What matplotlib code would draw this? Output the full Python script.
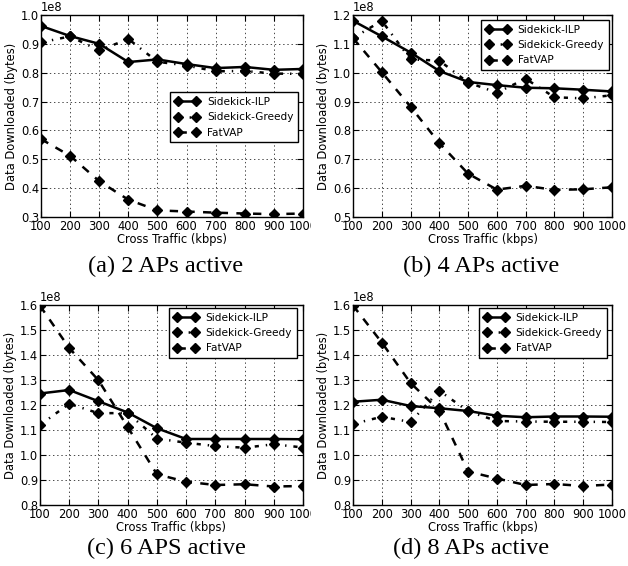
import matplotlib
matplotlib.use("Agg")
import matplotlib.pyplot as plt
import numpy as np
from matplotlib.transforms import Bbox

# ---- data (values in units of 1e8 bytes) ----
cross_traffic = [100, 200, 300, 400, 500, 600, 700, 800, 900, 1000]
series_names = ["Sidekick-ILP", "Sidekick-Greedy", "FatVAP"]

a_ilp = [0.962, 0.927, 0.900, 0.837, 0.846, 0.830, 0.816, 0.820, 0.810, 0.813]
a_greedy = [0.905, 0.926, 0.877, 0.917, 0.838, 0.825, 0.805, 0.806, 0.797, 0.796]
a_fatvap = [0.570, 0.512, 0.424, 0.360, 0.323, 0.319, 0.315, 0.312, 0.310, 0.312]

b_ilp = [1.180, 1.126, 1.070, 1.006, 0.968, 0.957, 0.948, 0.946, 0.941, 0.935]
b_greedy = [1.120, 1.180, 1.046, 1.042, 0.966, 0.931, 0.979, 0.915, 0.911, 0.922]
b_fatvap = [1.120, 1.002, 0.882, 0.756, 0.650, 0.595, 0.608, 0.594, 0.596, 0.603]

c_ilp = [1.246, 1.260, 1.215, 1.170, 1.107, 1.064, 1.064, 1.064, 1.064, 1.063]
c_greedy = [1.120, 1.205, 1.167, 1.168, 1.066, 1.049, 1.036, 1.029, 1.043, 1.030]
c_fatvap = [1.597, 1.428, 1.299, 1.112, 0.923, 0.893, 0.880, 0.883, 0.874, 0.876]

d_ilp = [1.213, 1.221, 1.196, 1.187, 1.176, 1.157, 1.151, 1.154, 1.154, 1.153]
d_greedy = [1.124, 1.153, 1.132, 1.257, 1.175, 1.136, 1.134, 1.133, 1.133, 1.132]
d_fatvap = [1.598, 1.450, 1.288, 1.178, 0.934, 0.906, 0.880, 0.884, 0.876, 0.882]

captions = ["(a) 2 APs active", "(b) 4 APs active", "(c) 6 APS active", "(d) 8 APs active"]
y_ranges = [(0.3, 1.0), (0.5, 1.2), (0.8, 1.6), (0.8, 1.6)]
xlabel = "Cross Traffic (kbps)"
ylabel = "Data Downloaded (bytes)"
scale = 1e8

# ---- style ----
plt.rcParams.update({
    "font.family": ["DejaVu Sans"],
    "font.size": 8.3,
    "xtick.direction": "in",
    "ytick.direction": "in",
    "xtick.top": True,
    "ytick.right": True,
    "xtick.major.size": 4,
    "ytick.major.size": 4,
    "xtick.major.pad": 2.5,
    "ytick.major.pad": 1.2,
    "axes.linewidth": 1.0,
    "lines.scale_dashes": False,
})

W, H = 628, 566
fig = plt.figure(figsize=(W / 100, H / 100), dpi=100)
fig.patch.set_facecolor("white")

# axes boxes in pixel coords: left, right, top, bottom
boxes = [(41, 303, 15, 217), (353, 612, 15, 217), (40, 303, 305, 505), (353, 612, 305, 505)]
leg_anchor = [(0.981, 0.617), (0.988, 0.975), (0.977, 0.985), (0.98, 0.985)]
caption_pos = [(166, 266), (481, 266), (166, 548), (471, 548)]
data = [(a_ilp, a_greedy, a_fatvap), (b_ilp, b_greedy, b_fatvap),
        (c_ilp, c_greedy, c_fatvap), (d_ilp, d_greedy, d_fatvap)]
clip_right = [311, None, 311, None]

styles = [dict(linestyle="-"),
          dict(linestyle=(0, (3, 5, 1, 5))),
          dict(linestyle=(0, (6, 6)))]

for i in range(4):
    l, r, t, b = boxes[i]
    ax = fig.add_axes([l / W, 1 - b / H, (r - l) / W, (b - t) / H])
    for vals, name, st in zip(data[i], series_names, styles):
        ax.plot(cross_traffic, np.array(vals) * scale, color="black", lw=1.8,
                marker="D", markersize=5.5, markerfacecolor="black",
                markeredgecolor="black", label=name, **st)
    ax.set_xlim(100, 1000)
    lo, hi = y_ranges[i]
    ax.set_ylim(lo * scale, hi * scale)
    ax.set_xticks(cross_traffic)
    ax.set_yticks(np.arange(lo, hi + 0.001, 0.1) * scale)
    ax.ticklabel_format(axis="y", style="sci", scilimits=(0, 0), useOffset=False)
    ax.grid(True, color="black", linestyle=(0, (1, 2)), linewidth=0.5)
    ax.set_xlabel(xlabel, labelpad=0)
    ax.set_ylabel(ylabel, labelpad=2)
    leg = ax.legend(loc="upper right", bbox_to_anchor=leg_anchor[i], borderaxespad=0,
                    fontsize=7.6, numpoints=2, handlelength=2.3, handletextpad=0.7,
                    fancybox=False, framealpha=1, edgecolor="black",
                    borderpad=0.45, labelspacing=0.5)
    leg.get_frame().set_linewidth(1.0)
    if clip_right[i] is not None:
        cb = Bbox.from_extents(0, 0, clip_right[i], H)
        for lbl in ax.get_xticklabels():
            lbl.set_clip_on(True)
            lbl.set_clip_box(cb)
    cx, cy = caption_pos[i]
    fig.text(cx / W, 1 - cy / H, captions[i], ha="center", va="center",
             fontsize=17.5, family=["Liberation Serif", "DejaVu Serif"])

fig.savefig("out.png", dpi=100, facecolor="white")
